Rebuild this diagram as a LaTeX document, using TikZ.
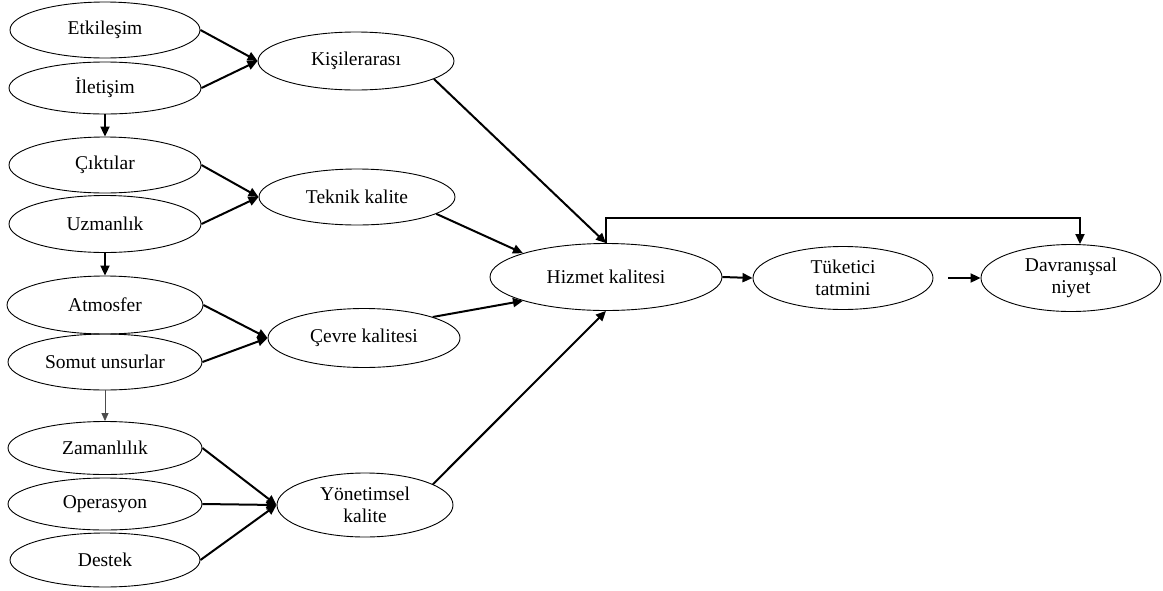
\documentclass[tikz,border=0pt]{standalone}
\usepackage{fontspec}
\setmainfont{Liberation Serif}
\usetikzlibrary{arrows.meta,shapes.geometric}

\begin{document}
\begin{tikzpicture}[x=1pt,y=-1pt,
  oval/.style={draw,ellipse,line width=.9pt,inner sep=0pt,align=center,
    font=\fontsize{19.5}{22}\selectfont},
  ok/.style={-{Triangle[length=10pt,width=9pt]},line width=2pt},
  ince/.style={-{Triangle[length=8pt,width=7pt]},line width=.8pt,black!70}]
  \useasboundingbox (0,0) rectangle (1163,590);
  % sol sutun
  \foreach \ad/\y/\w/\h/\metin in {etk/30/190/56/Etkileşim,ilet/88/192/52/İletişim,
      cikti/165/192/56/Çıktılar,uzm/224/192/57/Uzmanlık,atm/305/196/58/Atmosfer,
      somut/362/194/56/Somut unsurlar,zaman/448/194/53/Zamanlılık,
      oper/504/194/52/Operasyon,destek/560/190/54/Destek} {
    \node[oval,minimum width=\w pt,minimum height=\h pt] (\ad) at (105,\y) {\metin};
  }
  % orta sutun
  \node[oval,minimum width=196pt,minimum height=58pt] (kisi) at (356,61) {Kişilerarası};
  \node[oval,minimum width=196pt,minimum height=56pt] (teknik) at (357,197) {Teknik kalite};
  \node[oval,minimum width=192pt,minimum height=59pt] (cevre) at (364,338) {Çevre kalitesi};
  \node[oval,minimum width=176pt,minimum height=64pt] (yonet) at (365,505) {Yönetimsel\\kalite};
  % sag
  \node[oval,minimum width=232pt,minimum height=67pt] (hizmet) at (606,277) {Hizmet kalitesi};
  \node[oval,minimum width=180pt,minimum height=63pt] (tuket) at (843,278) {Tüketici\\tatmini};
  \node[oval,minimum width=180pt,minimum height=67pt] (davr) at (1071,278) {Davranışsal\\niyet};
  \coordinate (ust) at (606,218);

  \foreach \a/\b in {etk/kisi,ilet/kisi,cikti/teknik,uzm/teknik,atm/cevre,
      somut/cevre,zaman/yonet,oper/yonet,destek/yonet}
    \draw[ok] (\a.east) -- (\b.west);
  \draw[ok] (ilet.south) -- (cikti.north);
  \draw[ok] (uzm.south) -- (atm.north);
  \draw[ince] (somut.south) -- (zaman.north);

  \draw[ok] (kisi.-13) -- (hizmet.north);
  \draw[ok] (teknik.-12) -- (hizmet.164);
  \draw[ok] (cevre.17) -- (hizmet.196);
  \draw[ok] (yonet.17) -- (hizmet.south);
  \draw[ok] (hizmet.east) -- (tuket.west);
  \draw[ok,shorten <=15pt] (tuket.east) -- (davr.west);
  \draw[ok] (hizmet.north) -- (hizmet.north |- ust) -| ([xshift=9pt]davr.north);
\end{tikzpicture}
\end{document}
